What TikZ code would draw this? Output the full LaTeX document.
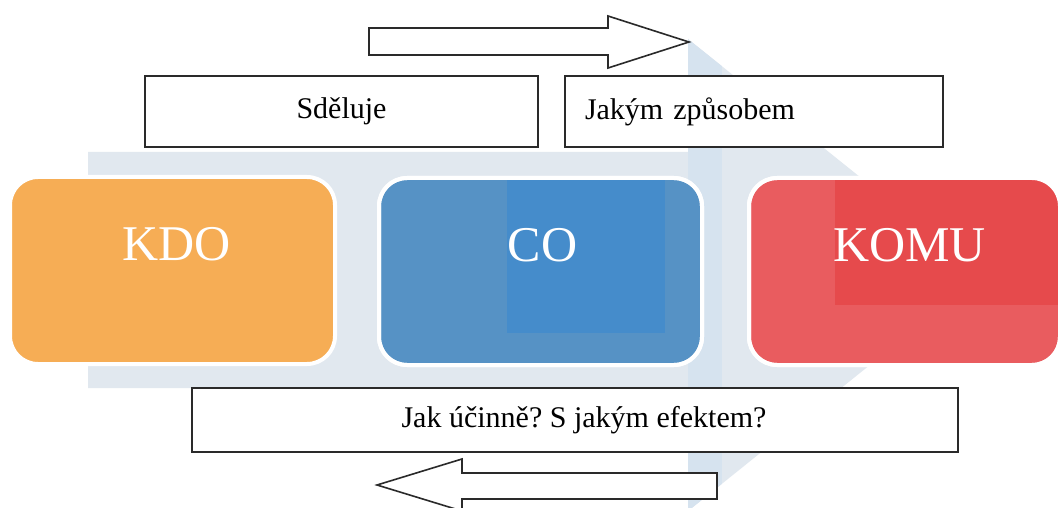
\documentclass[tikz,border=0pt]{standalone}
\usepackage{fontspec}
\setmainfont{Liberation Serif}
\frenchspacing
\definecolor{chev}{HTML}{E1E8EF}
\definecolor{chevstrip}{HTML}{D6E3EF}
\definecolor{kdoc}{HTML}{F6AD55}
\definecolor{coc}{HTML}{5692C5}
\definecolor{cod}{HTML}{458CCB}
\definecolor{komuc}{HTML}{E95C5F}
\definecolor{komud}{HTML}{E64A4C}
\definecolor{ink}{HTML}{2A2A2A}
\begin{document}
\begin{tikzpicture}[x=1pt,y=-1pt,
  cbox/.style={draw=white, line width=4pt, rounded corners=28pt, outer sep=0pt, inner sep=0pt},
  bigtext/.style={text=white, font=\fontsize{50}{60}\selectfont, inner sep=0pt},
  tbox/.style={draw=ink, line width=1.6pt, fill=white, outer sep=0pt, inner sep=0pt,
    font=\fontsize{30}{36}\selectfont},
  blockarrow/.style={draw=ink, line width=1.6pt, fill=white, line join=miter}]
\useasboundingbox (0,0) rectangle (1061,508);
\fill[white] (0,0) rectangle (1061,508);
% background chevron
\begin{scope}
  \clip (88,152) -- (688,152) -- (688,39) -- (982,275) -- (688,511) -- (688,388) -- (88,388) -- cycle;
  \fill[chev] (0,0) rectangle (1061,520);
  \fill[chevstrip] (688,0) rectangle (722,520);
\end{scope}
% coloured boxes
\node[cbox, fill=kdoc, minimum width=325pt, minimum height=187pt] (kdo) at (172.5,270.5) {};
\node[cbox, fill=coc, minimum width=323pt, minimum height=187pt] (co) at (540.5,271.5) {};
\node[cbox, fill=komuc, minimum width=311pt, minimum height=187pt] (komu) at (904.5,271.5) {};
\begin{scope}
  \clip[rounded corners=28pt] (co.south west) rectangle (co.north east);
  \fill[cod] (507,180) rectangle (665,333);
\end{scope}
\begin{scope}
  \clip[rounded corners=28pt] (komu.south west) rectangle (komu.north east);
  \fill[komud] (835,180) rectangle (1070,305);
\end{scope}
\draw[white, line width=4pt, rounded corners=28pt] (co.south west) rectangle (co.north east);
\draw[white, line width=4pt, rounded corners=28pt] (komu.south west) rectangle (komu.north east);
\node[bigtext] (kdoT) at ([xshift=4pt,yshift=26pt]kdo.center) {KDO};
\node[bigtext] (coT) at ([xshift=2pt,yshift=26pt]co.center) {CO};
\node[bigtext] (komuT) at ([xshift=5pt,yshift=26pt]komu.center) {KOMU};
% text boxes
\node[tbox, minimum width=393pt, minimum height=71pt] (sdel) at (341.5,111.5) {Sděluje};
\node[tbox, minimum height=71pt, text width=338pt, inner xsep=20pt, align=left] (zpus) at (754,111.5) {Jakým způsobem};
\node[tbox, minimum width=766pt, minimum height=64pt] (eff) at (575,420) {};
\node[font=\fontsize{30}{36}\selectfont, inner sep=0pt] (effT) at ([xshift=9pt]eff.center) {Jak účinně? S jakým efektem?};
% block arrows
\draw[blockarrow] (369,28) -- (608,28) -- (608,16) -- (689,42) -- (608,68) -- (608,55) -- (369,55) -- cycle;
\draw[blockarrow] (717,473) -- (462,473) -- (462,459) -- (377,485) -- (462,511) -- (462,499) -- (717,499) -- cycle;
\end{tikzpicture}
\end{document}
